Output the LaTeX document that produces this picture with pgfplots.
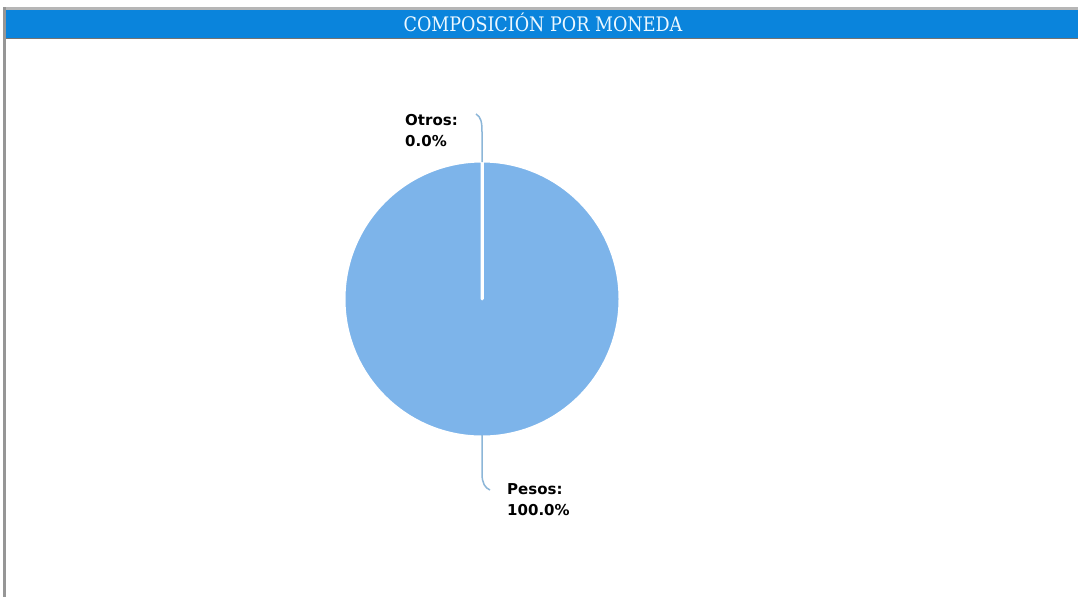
\documentclass[border=0pt]{standalone}
\usepackage{pgfplots}
\pgfplotsset{compat=1.18}
\usepackage{pgfplotstable}
\usepackage{graphicx}
\usepackage{fontspec}
\setmainfont{DejaVu Sans}
\newfontfamily\titlefont{DejaVu Serif Condensed}
\newfontfamily\labelfont{DejaVu Sans}
\definecolor{barblue}{RGB}{10,132,220}
\definecolor{pieblue}{RGB}{125,180,234}
\definecolor{leader}{RGB}{140,182,216}
\definecolor{titletext}{RGB}{236,248,255}
\definecolor{framegray}{RGB}{150,150,150}
% slice values (percent)
\def\vPesos{100.0}
\def\vOtros{0.0}
\pgfmathsetmacro{\aStart}{90}
\pgfmathsetmacro{\aMid}{90-3.6*\vPesos}
\pgfmathsetmacro{\aEnd}{\aMid-3.6*\vOtros}
\begin{document}
\begin{tikzpicture}[x=1pt,y=1pt]
\begin{axis}[
  width=1078pt, height=597pt, scale only axis,
  xmin=0, xmax=1078, ymin=0, ymax=597, y dir=reverse,
  hide axis, clip=false,
]
% background
\fill[white] (axis cs:0,0) rectangle (axis cs:1078,597);
% frame
\fill[framegray!70] (axis cs:3,7) rectangle (axis cs:1078,9.5);
\fill[barblue] (axis cs:4,9.5) rectangle (axis cs:1078,37.5);
\fill[black!55] (axis cs:4,37.5) rectangle (axis cs:1078,39);
\fill[framegray] (axis cs:3,7) rectangle (axis cs:5.5,597);
\node[text=titletext, font=\titlefont\fontsize{20}{22}\selectfont, anchor=base, inner sep=0pt] at (axis cs:543,31) {\scalebox{0.975}[1]{COMPOSICIÓN POR MONEDA}};
% pie: Pesos slice
\filldraw[fill=pieblue, draw=white, line width=3pt, line join=round]
  (axis cs:482,299) -- ++(\aStart:138pt) arc[start angle=\aStart, end angle=\aMid, radius=138pt] -- cycle;
% Otros slice (0%)
\filldraw[fill=pieblue, draw=white, line width=3pt]
  (axis cs:482,299) -- ++(\aMid:138pt) arc[start angle=\aMid, end angle=\aEnd, radius=138pt] -- cycle;
% leader lines
\draw[leader, line width=1.5pt] (axis cs:476,114) .. controls (axis cs:481,117) and (axis cs:482,122) .. (axis cs:482,132) -- (axis cs:482,162);
\draw[leader, line width=1.5pt] (axis cs:482,435) -- (axis cs:482,474) .. controls (axis cs:482,483) and (axis cs:485,488) .. (axis cs:490,490);
% labels
\node[anchor=base west, inner sep=0pt, font=\labelfont\bfseries\fontsize{15}{18}\selectfont] at (axis cs:405,125) {Otros:};
\node[anchor=base west, inner sep=0pt, font=\labelfont\bfseries\fontsize{15}{18}\selectfont] at (axis cs:405,146) {0.0\%};
\node[anchor=base west, inner sep=0pt, font=\labelfont\bfseries\fontsize{15}{18}\selectfont] at (axis cs:507,494) {Pesos:};
\node[anchor=base west, inner sep=0pt, font=\labelfont\bfseries\fontsize{15}{18}\selectfont] at (axis cs:507,515) {100.0\%};
\end{axis}
\end{tikzpicture}
\end{document}
